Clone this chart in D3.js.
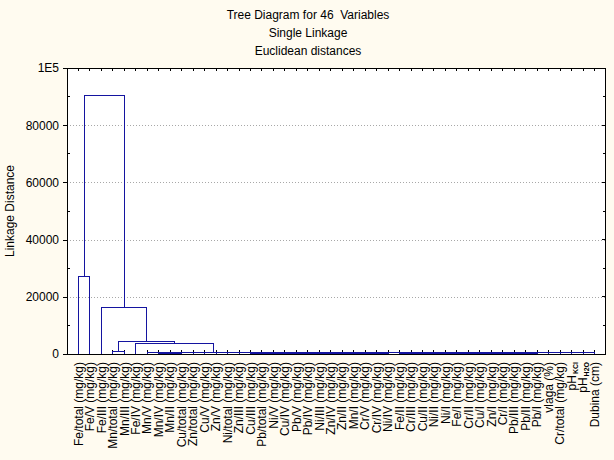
<!DOCTYPE html>
<html><head><meta charset="utf-8">
<script src="https://cdn.jsdelivr.net/npm/d3@7"></script>
<style>
html,body{margin:0;padding:0;background:#fffbf0;}
svg{display:block;font-family:Arial,"Liberation Sans",sans-serif;}
</style></head><body>
<svg id="c" width="614" height="460"></svg>
<script>
const titleLines = ["Tree Diagram for 46  Variables", "Single Linkage", "Euclidean distances"];
const yAxisTitle = "Linkage Distance";
const leafLabels = [
  "Fe/total (mg/kg)","Fe/V (mg/kg)","Fe/III (mg/kg)","Mn/total (mg/kg)","Mn/III (mg/kg)",
  "Fe/IV (mg/kg)","Mn/V (mg/kg)","Mn/IV (mg/kg)","Mn/II (mg/kg)","Cu/total (mg/kg)",
  "Zn/total (mg/kg)","Cu/V (mg/kg)","Zn/V (mg/kg)","Ni/total (mg/kg)","Zn/III (mg/kg)",
  "Cu/III (mg/kg)","Pb/total (mg/kg)","Ni/V (mg/kg)","Cu/IV (mg/kg)","Pb/V (mg/kg)",
  "Pb/IV (mg/kg)","Ni/III (mg/kg)","Zn/IV (mg/kg)","Zn/II (mg/kg)","Mn/I (mg/kg)",
  "Cr/V (mg/kg)","Cr/IV (mg/kg)","Ni/IV (mg/kg)","Fe/II (mg/kg)","Cr/III (mg/kg)",
  "Cu/II (mg/kg)","Ni/II (mg/kg)","Ni/I (mg/kg)","Fe/I (mg/kg)","Cr/II (mg/kg)",
  "Cu/I (mg/kg)","Zn/I (mg/kg)","Cr/I (mg/kg)","Pb/III (mg/kg)","Pb/II (mg/kg)",
  "Pb/I (mg/kg)","vlaga (%)","Cr/total (mg/kg)","pH_KCl","pH_H2O","Dubina (cm)"
];
const yTicks = [0, 20000, 40000, 60000, 80000, 100000];
const yTickLabels = ["0", "20000", "40000", "60000", "80000", "1E5"];
const yMinorTicks = [10000, 30000, 50000, 70000, 90000];
const gridValues = [20000, 40000, 60000, 80000];
// linkage: [clusterId, left, right, height]; numbers are leaf indexes
const linkage = [
  ["b1", 28, 29, 56], ["a1", 26, 27, 70], ["b2", "b1", 30, 88], ["a2", 25, "a1", 104],
  ["b3", "b2", 31, 114], ["a3", 24, "a2", 122], ["b4", "b3", 32, 138], ["r1a", 8, 9, 140],
  ["a4", 23, "a3", 156], ["b5", "b4", 33, 166], ["a5", 22, "a4", 180], ["r1", 7, "r1a", 190],
  ["b6", "b5", 34, 192], ["a6", 21, "a5", 208], ["b7", "b6", 35, 216], ["a7", 20, "a6", 234],
  ["b8", "b7", 36, 242], ["a8", 19, "a7", 250], ["b9", "b8", 37, 266], ["a9", 18, "a8", 278],
  ["b10", "b9", 38, 294], ["a10", 17, "a9", 300], ["b11", "b10", 39, 320], ["a11", 16, "a10", 326],
  ["a12", 15, "a11", 342], ["b12", "b11", 40, 348], ["a13", 14, "a12", 372], ["b13", "b12", 41, 376],
  ["a14", 13, "a13", 396], ["b14", "b13", 42, 406], ["a15", 12, "a14", 418], ["b15", "b14", 43, 432],
  ["a16", 11, "a15", 448], ["b16", "b15", 44, 462], ["a17", 10, "a16", 476], ["b17", "b16", 45, 494],
  ["r2", "a17", "b17", 524], ["r", "r1", "r2", 562], ["g", 6, "r", 600],
  ["m", 3, 4, 950], ["f", 5, "g", 3740], ["e", "m", "f", 4440],
  ["d", 2, "e", 16330], ["c", 0, 1, 27030], ["root", "c", "d", 90500]
];

const svg = d3.select("#c");
const plot = {left: 67, right: 606, top: 68, bottom: 354};
const xs = d3.scaleLinear().domain([0, leafLabels.length + 1]).range([plot.left, plot.right]);
const ys = d3.scaleLinear().domain([0, 100000]).range([plot.bottom, plot.top]);
const lineColor = "#1414a0";

svg.append("rect").attr("width", 614).attr("height", 460).attr("fill", "#fffbf0");
svg.append("rect").attr("x", plot.left).attr("y", plot.top)
  .attr("width", plot.right - plot.left).attr("height", plot.bottom - plot.top)
  .attr("fill", "#ffffff");

// grid
svg.append("g").selectAll("line").data(gridValues).join("line")
  .attr("x1", plot.left).attr("x2", plot.right)
  .attr("y1", d => Math.round(ys(d)) + 0.5).attr("y2", d => Math.round(ys(d)) + 0.5)
  .attr("stroke", "#a8a8a8").attr("stroke-dasharray", "1,2");

// titles
svg.append("g").selectAll("text").data(titleLines).join("text")
  .attr("x", 308).attr("y", (d, i) => 19 + i * 18)
  .attr("text-anchor", "middle").attr("font-size", 12).attr("fill", "#000")
  .style("white-space", "pre").text(d => d);

// y axis
const yAxis = d3.axisLeft(ys).tickValues(yTicks)
  .tickFormat((d, i) => yTickLabels[i]).tickSizeInner(4).tickSizeOuter(0).tickPadding(4);
const gy = svg.append("g").attr("transform", `translate(${plot.left},0)`).call(yAxis);
gy.select(".domain").remove();
gy.selectAll("text").attr("font-size", 12).attr("font-family", "Arial, 'Liberation Sans', sans-serif").attr("fill", "#000");
gy.selectAll("line").attr("stroke", "#000").attr("shape-rendering", "crispEdges");

svg.append("text").attr("transform", `translate(14,${(plot.top + plot.bottom) / 2}) rotate(-90)`)
  .attr("text-anchor", "middle").attr("font-size", 12).attr("fill", "#000").text(yAxisTitle);

// inner ticks
const tk = svg.append("g").attr("stroke", "#000").attr("shape-rendering", "crispEdges");
yMinorTicks.forEach(v => {
  tk.append("line").attr("x1", plot.left).attr("x2", plot.left + 3).attr("y1", ys(v)).attr("y2", ys(v));
  tk.append("line").attr("x1", plot.right).attr("x2", plot.right - 3).attr("y1", ys(v)).attr("y2", ys(v));
});
yTicks.forEach(v => {
  tk.append("line").attr("x1", plot.right).attr("x2", plot.right - 4).attr("y1", ys(v)).attr("y2", ys(v));
});
leafLabels.forEach((l, i) => {
  const x = xs(i + 1);
  tk.append("line").attr("x1", x).attr("x2", x).attr("y1", plot.top).attr("y2", plot.top + 3);
  tk.append("line").attr("x1", x).attr("x2", x).attr("y1", plot.bottom).attr("y2", plot.bottom - 4);
});

// dendrogram
const nodes = {};
const getNode = ref => typeof ref === "number" ? {x: xs(ref + 1), h: 0} : nodes[ref];
const dg = svg.append("g").attr("fill", "none").attr("stroke", lineColor)
  .attr("stroke-width", 1).attr("shape-rendering", "crispEdges");
linkage.forEach(([id, a, b, h]) => {
  const A = getNode(a), B = getNode(b);
  dg.append("path").attr("d", `M${A.x},${ys(A.h)}V${ys(h)}H${B.x}V${ys(B.h)}`);
  nodes[id] = {x: (A.x + B.x) / 2, h: h};
});

// frame
svg.append("rect").attr("x", plot.left + 0.5).attr("y", plot.top + 0.5)
  .attr("width", plot.right - plot.left - 1).attr("height", plot.bottom - plot.top)
  .attr("fill", "none").attr("stroke", "#000");

// leaf labels
const lg = svg.append("g");
leafLabels.forEach((l, i) => {
  const t = lg.append("text")
    .attr("transform", `translate(${xs(i + 1)},362) rotate(-90)`)
    .attr("text-anchor", "end").attr("dy", "0.35em")
    .attr("font-size", 12).attr("fill", "#000");
  const parts = l.split("_");
  t.append("tspan").text(parts[0]);
  if (parts[1]) {
    t.append("tspan").attr("font-size", 7).attr("font-weight", "bold")
      .attr("dy", 2).attr("dx", 1).text(parts[1]);
  }
});
</script>
</body></html>
